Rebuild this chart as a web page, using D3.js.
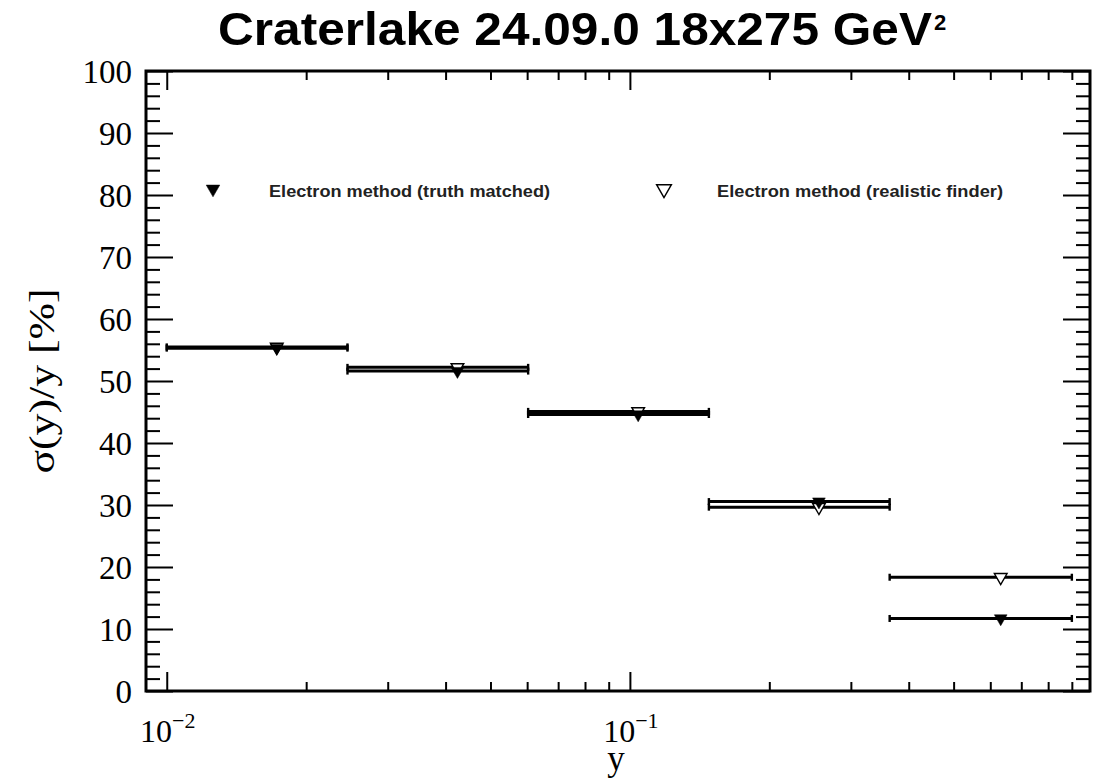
<!DOCTYPE html>
<html>
<head>
<meta charset="utf-8">
<script src="https://cdn.jsdelivr.net/npm/d3@7"></script>
<style>
  body { margin: 0; background: #fff; }
  svg { display: block; }
</style>
</head>
<body>
<div id="vis"></div>
<script>
// bin edges in y (log spaced) and resolution per bin in %
var binEdges = [0.01, 0.02456, 0.0603, 0.1481, 0.3638, 0.9];
var truthMatched = [55.3, 51.6, 44.6, 30.55, 11.7];
var realisticFinder = [55.5, 52.2, 45.1, 29.65, 18.35];
var yTicks = [0, 10, 20, 30, 40, 50, 60, 70, 80, 90, 100];
var xMajor = [0.01, 0.1];
var xMajorLabels = [["10", "\u22122"], ["10", "\u22121"]];

var width = 1103;
var height = 779;
var frame = { left: 146, right: 1090, top: 71, bottom: 691 };

var svg = d3.select('#vis')
  .append('svg')
  .attr('width', width)
  .attr('height', height);

var x = d3.scaleLog()
  .domain([0.00902, 0.985])
  .range([frame.left, frame.right]);

var y = d3.scaleLinear()
  .domain([0, 100])
  .range([frame.bottom, frame.top]);

// minor x ticks: 2..9 per decade
var xMinor = x.ticks().filter(function(d) {
  return xMajor.indexOf(d) < 0 && d > x.domain()[0] && d < x.domain()[1];
});
var yMinor = d3.range(0, 100.1, 2).filter(function(d) { return d % 10 !== 0; });

// x ticks (bottom and top), pointing inward
function xTickGroup(ypos, size, values) {
  var ax = (ypos === frame.bottom ? d3.axisTop(x) : d3.axisBottom(x))
    .tickValues(values).tickSize(size).tickFormat("");
  var g = svg.append('g')
    .attr('transform', 'translate(0,' + ypos + ')')
    .call(ax);
  g.select('.domain').remove();
  g.selectAll('line').attr('stroke', '#000').attr('stroke-width', 2);
}
xTickGroup(frame.bottom, 19, xMajor);
xTickGroup(frame.bottom, 9, xMinor);
xTickGroup(frame.top, 19, xMajor);
xTickGroup(frame.top, 9, xMinor);

// y ticks (left and right), pointing inward
function yTickGroup(xpos, size, values) {
  var ax = (xpos === frame.left ? d3.axisRight(y) : d3.axisLeft(y))
    .tickValues(values).tickSize(size).tickFormat("");
  var g = svg.append('g')
    .attr('transform', 'translate(' + xpos + ',0)')
    .call(ax);
  g.select('.domain').remove();
  g.selectAll('line').attr('stroke', '#000').attr('stroke-width', 2);
}
yTickGroup(frame.left, 27, yTicks);
yTickGroup(frame.left, 14, yMinor);
yTickGroup(frame.right, 27, yTicks);
yTickGroup(frame.right, 14, yMinor);

// frame
svg.append('rect')
  .attr('x', frame.left)
  .attr('y', frame.top)
  .attr('width', frame.right - frame.left)
  .attr('height', frame.bottom - frame.top)
  .attr('fill', 'none')
  .attr('stroke', '#000')
  .attr('stroke-width', 3);

// y tick labels
svg.selectAll('.ylab')
  .data(yTicks)
  .enter().append('text')
  .attr('class', 'ylab')
  .attr('x', 132)
  .attr('y', function(d) { return y(d); })
  .attr('dy', '0.35em')
  .attr('text-anchor', 'end')
  .style('font-family', '"Liberation Serif", "DejaVu Serif", serif')
  .style('font-size', '33px')
  .text(function(d) { return d; });

// x tick labels with superscript exponent
xMajor.forEach(function(v, i) {
  var t = svg.append('text')
    .attr('x', x(v) + 1)
    .attr('y', 742)
    .attr('text-anchor', 'middle')
    .style('font-family', '"Liberation Serif", "DejaVu Serif", serif')
    .style('font-size', '32px');
  t.append('tspan').text(xMajorLabels[i][0]);
  t.append('tspan')
    .attr('dy', -14)
    .style('font-size', '22px')
    .text(xMajorLabels[i][1]);
});

// axis titles
svg.append('text')
  .attr('x', 616)
  .attr('y', 770)
  .attr('text-anchor', 'middle')
  .style('font-family', '"Liberation Serif", "DejaVu Serif", serif')
  .style('font-size', '35px')
  .text('y');

svg.append('text')
  .attr('transform', 'translate(54,381) rotate(-90)')
  .attr('text-anchor', 'middle')
  .attr('textLength', 185)
  .attr('lengthAdjust', 'spacingAndGlyphs')
  .style('font-family', '"Liberation Serif", "DejaVu Serif", serif')
  .style('font-size', '36px')
  .text('\u03c3(y)/y [%]');

// title
svg.append('text')
  .attr('x', 218)
  .attr('y', 45)
  .attr('textLength', 714)
  .attr('lengthAdjust', 'spacingAndGlyphs')
  .style('font-family', '"Liberation Sans", Arial, sans-serif')
  .style('font-weight', 'bold')
  .style('font-size', '47px')
  .text('Craterlake 24.09.0 18x275 GeV');
svg.append('text')
  .attr('x', 934)
  .attr('y', 30)
  .style('font-family', '"Liberation Sans", Arial, sans-serif')
  .style('font-weight', 'bold')
  .style('font-size', '22px')
  .text('2');

// data
function binData(values) {
  return values.map(function(v, i) {
    return {
      lo: binEdges[i],
      hi: binEdges[i + 1],
      mid: (binEdges[i] + binEdges[i + 1]) / 2,
      val: v
    };
  });
}

var triDown = d3.symbol().type(d3.symbolTriangle).size(70);

function drawSeries(values, filled) {
  var data = binData(values);
  var g = svg.append('g');

  g.selectAll('.bar')
    .data(data)
    .enter().append('line')
    .attr('x1', function(d) { return x(d.lo); })
    .attr('x2', function(d) { return x(d.hi); })
    .attr('y1', function(d) { return y(d.val); })
    .attr('y2', function(d) { return y(d.val); })
    .attr('stroke', '#000')
    .attr('stroke-width', 3);

  // end caps
  [ 'lo', 'hi' ].forEach(function(k) {
    g.selectAll('.cap' + k)
      .data(data)
      .enter().append('line')
      .attr('x1', function(d) { return x(d[k]); })
      .attr('x2', function(d) { return x(d[k]); })
      .attr('y1', function(d) { return y(d.val) - 3.5; })
      .attr('y2', function(d) { return y(d.val) + 3.5; })
      .attr('stroke', '#000')
      .attr('stroke-width', 2.4);
  });

  g.selectAll('.point')
    .data(data)
    .enter().append('path')
    .attr('d', triDown)
    .attr('transform', function(d) {
      return 'translate(' + x(d.mid) + ',' + y(d.val) + ') rotate(180)';
    })
    .attr('fill', filled ? '#000' : '#fff')
    .attr('stroke', '#000')
    .attr('stroke-width', filled ? 0.5 : 1.4);
}

drawSeries(realisticFinder, false);
drawSeries(truthMatched, true);

// legend
var legend = [
  { label: 'Electron method (truth matched)', filled: true, mx: 213, tx: 269, len: 281 },
  { label: 'Electron method (realistic finder)', filled: false, mx: 664, tx: 717, len: 286 }
];
legend.forEach(function(l) {
  svg.append('path')
    .attr('d', d3.symbol().type(d3.symbolTriangle).size(l.filled ? 80 : 95))
    .attr('transform', 'translate(' + l.mx + ',189) rotate(180)')
    .attr('fill', l.filled ? '#000' : '#fff')
    .attr('stroke', '#000')
    .attr('stroke-width', l.filled ? 0.5 : 1.4);
  svg.append('text')
    .attr('x', l.tx)
    .attr('y', 191)
    .attr('dy', '0.35em')
    .attr('textLength', l.len)
    .attr('lengthAdjust', 'spacingAndGlyphs')
    .style('font-family', '"Liberation Sans", Arial, sans-serif')
    .style('font-weight', 'bold')
    .style('font-size', '17px')
    .style('fill', '#222')
    .text(l.label);
});
</script>
</body>
</html>
